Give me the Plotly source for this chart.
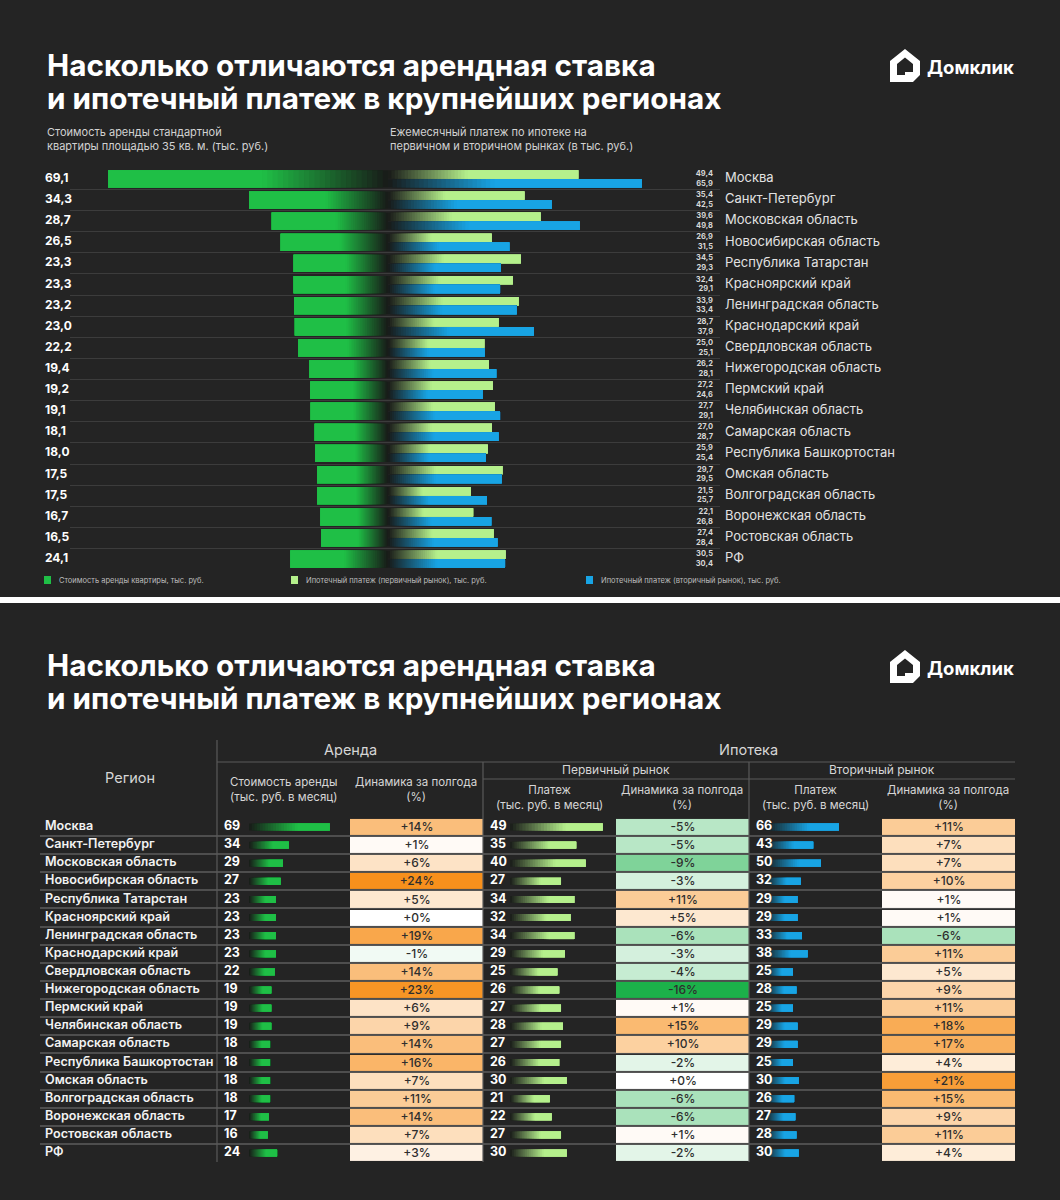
import plotly.graph_objects as go

W, H = 1060, 1200
BG = '#242424'
FONT = 'Inter, Noto Sans, DejaVu Sans, sans-serif'

# ---------------- DATA ----------------
regions = ['Москва', 'Санкт-Петербург', 'Московская область', 'Новосибирская область',
           'Республика Татарстан', 'Красноярский край', 'Ленинградская область',
           'Краснодарский край', 'Свердловская область', 'Нижегородская область',
           'Пермский край', 'Челябинская область', 'Самарская область',
           'Республика Башкортостан', 'Омская область', 'Волгоградская область',
           'Воронежская область', 'Ростовская область', 'РФ']

# top chart (тыс. руб.)
rent = [69.1, 34.3, 28.7, 26.5, 23.3, 23.3, 23.2, 23.0, 22.2, 19.4, 19.2, 19.1, 18.1, 18.0, 17.5, 17.5, 16.7, 16.5, 24.1]
prim = [49.4, 35.4, 39.6, 26.9, 34.5, 32.4, 33.9, 28.7, 25.0, 26.2, 27.2, 27.7, 27.0, 25.9, 29.7, 21.5, 22.1, 27.4, 30.5]
sec = [65.9, 42.5, 49.8, 31.5, 29.3, 29.1, 33.4, 37.9, 25.1, 28.1, 24.6, 29.1, 28.7, 25.4, 29.5, 25.7, 26.8, 28.4, 30.4]

# table (rounded values, dynamics in %)
rent_tbl = [69, 34, 29, 27, 23, 23, 23, 23, 22, 19, 19, 19, 18, 18, 18, 18, 17, 16, 24]
rent_dyn = [14, 1, 6, 24, 5, 0, 19, -1, 14, 23, 6, 9, 14, 16, 7, 11, 14, 7, 3]
prim_tbl = [49, 35, 40, 27, 34, 32, 34, 29, 25, 26, 27, 28, 27, 26, 30, 21, 22, 27, 30]
prim_dyn = [-5, -5, -9, -3, 11, 5, -6, -3, -4, -16, 1, 15, 10, -2, 0, -6, -6, 1, -2]
sec_tbl = [66, 43, 50, 32, 29, 29, 33, 38, 25, 28, 25, 29, 29, 25, 30, 26, 27, 28, 30]
sec_dyn = [11, 7, 7, 10, 1, 1, -6, 11, 5, 9, 11, 18, 17, 4, 21, 15, 9, 11, 4]

# ---------------- STYLE ----------------
C_RENT = '#1fbf46'
C_PRIM = '#b5f08c'
C_SEC = '#18a4e4'
C_DARK = '#181a18'
GRID_TOP = '#3c3c3c'
GRID_TBL = '#4e4e4e'


def px(x):
    return x / W


def py(y):
    return 1 - y / H


def hex2rgb(c):
    c = c.lstrip('#')
    return tuple(int(c[i:i + 2], 16) for i in (0, 2, 4))


def mix(c1, c2, t):
    a, b = hex2rgb(c1), hex2rgb(c2)
    return 'rgb(%d,%d,%d)' % tuple(round(a[i] + (b[i] - a[i]) * t) for i in range(3))


def fmt1(v):
    return f"{v:.1f}".replace('.', ',')


fig = go.Figure()


def grad_bars(values, xa, ya, color, frac, width, offset, K=24, gamma=1.0):
    # layered segments: each starts further out and runs to the bar end,
    # later (brighter) layers cover earlier ones -> smooth gradient without seams
    for k in range(K):
        t = ((k + 0.5) / K) ** gamma
        fig.add_trace(go.Bar(
            orientation='h', y=regions,
            x=[v - v * frac * k / K for v in values],
            base=[v * frac * k / K for v in values],
            marker=dict(color=mix(C_DARK, color, t), line=dict(width=0)),
            width=width, offset=offset, xaxis=xa, yaxis=ya,
            showlegend=False, hoverinfo='skip'))
    fig.add_trace(go.Bar(
        orientation='h', y=regions, x=[v * (1 - frac) for v in values],
        base=[v * frac for v in values],
        marker=dict(color=color, line=dict(width=0)),
        width=width, offset=offset, xaxis=xa, yaxis=ya,
        showlegend=False, hoverinfo='skip'))


# ---------------- TOP CHART ----------------
grad_bars(rent, 'x', 'y', C_RENT, 0.45, 0.82, -0.41)
grad_bars(prim, 'x2', 'y', C_PRIM, 0.42, 0.40, -0.41)
grad_bars(sec, 'x2', 'y', C_SEC, 0.42, 0.40, 0.01)

# labels (pixel axis x3 / y2)
fig.add_trace(go.Scatter(
    x=[45] * len(regions), y=regions, mode='text',
    text=[f'<b>{fmt1(v)}</b>' for v in rent], textposition='middle right',
    textfont=dict(size=12, color='#ffffff', family=FONT),
    xaxis='x3', yaxis='y2', showlegend=False, hoverinfo='skip'))
fig.add_trace(go.Scatter(
    x=[713] * len(regions), y=regions, mode='text',
    text=[f'<b>{fmt1(a)}<br>{fmt1(b)}</b>' for a, b in zip(prim, sec)],
    textposition='middle left',
    textfont=dict(size=7.5, color='#d8d8d8', family=FONT),
    xaxis='x3', yaxis='y2', showlegend=False, hoverinfo='skip'))
fig.add_trace(go.Scatter(
    x=[725] * len(regions), y=regions, mode='text',
    text=regions, textposition='middle right',
    textfont=dict(size=13, color='#e2e2e2', family=FONT),
    xaxis='x3', yaxis='y2', showlegend=False, hoverinfo='skip'))

# ---------------- TABLE ----------------
# region names
fig.add_trace(go.Scatter(
    x=[5] * len(regions), y=regions, mode='text', text=regions,
    textposition='middle right',
    textfont=dict(size=12.6, color='#f2f2f2', family=FONT, weight=600),
    xaxis='x4', yaxis='y3', showlegend=False, hoverinfo='skip'))

# mini bar columns: (values, axis, color, zero_px, px_per_unit, col_start)
bar_cols = [
    (rent_tbl, 'x5', C_RENT, 249, 1.17, 217),
    (prim_tbl, 'x7', C_PRIM, 510, 1.89, 483),
    (sec_tbl, 'x9', C_SEC, 765, 1.12, 749),
]
for vals, xa, col, z0, sc, c0 in bar_cols:
    grad_bars(vals, xa, 'y3', col, 0.6, 0.38, -0.19, K=18)
    fig.add_trace(go.Scatter(
        x=[(c0 + 7 - z0) / sc] * len(regions), y=regions, mode='text',
        text=[f'<b>{v}</b>' for v in vals], textposition='middle right',
        textfont=dict(size=12.5, color='#ffffff', family=FONT),
        xaxis=xa, yaxis='y3', showlegend=False, hoverinfo='skip'))

# dynamics heatmap columns
cscale = [[0.0, '#1cb14a'], [0.4, '#ffffff'], [1.0, '#f7901c']]
for vals, xa in [(rent_dyn, 'x6'), (prim_dyn, 'x8'), (sec_dyn, 'x10')]:
    fig.add_trace(go.Heatmap(
        z=[[v] for v in vals], x=[0], y=regions,
        text=[[f'{v:+d}%'] for v in vals], texttemplate='%{text}',
        textfont=dict(size=12, color='#2e2e2e', family=FONT, weight=500),
        colorscale=cscale, zmin=-16, zmax=24, showscale=False,
        xgap=0, ygap=2, xaxis=xa, yaxis='y3', hoverinfo='skip'))

# ---------------- LAYOUT ----------------
n = len(regions)
cat_common = dict(type='category', categoryorder='array', categoryarray=regions,
                  range=[n - 0.5, -0.5], fixedrange=True)

top_dom = [py(569.6), py(168.4)]
tbl_dom = [py(1162.1), py(817.9)]

layout = dict(
    width=W, height=H, margin=dict(l=0, r=0, t=0, b=0),
    paper_bgcolor=BG, plot_bgcolor='rgba(0,0,0,0)',
    barmode='overlay', showlegend=False, font=dict(family=FONT),
    xaxis=dict(domain=[px(70), px(388)], range=[318 / 4.05, 0], visible=False, anchor='y'),
    xaxis2=dict(domain=[px(388), px(720)], range=[0, 332 / 3.85], visible=False, anchor='y'),
    xaxis3=dict(domain=[0, 1], range=[0, W], visible=False, anchor='y2'),
    yaxis=dict(domain=top_dom, showgrid=True, gridcolor=GRID_TOP, gridwidth=1,
               tickson='boundaries', showticklabels=False, ticks='', showline=False,
               zeroline=False, **cat_common),
    yaxis2=dict(domain=top_dom, visible=False, **cat_common),
    xaxis4=dict(domain=[px(40), px(217)], range=[0, 177], visible=False, anchor='y3'),
    xaxis5=dict(domain=[px(217), px(350)], range=[(217 - 249) / 1.17, (350 - 249) / 1.17], visible=False, anchor='y3'),
    xaxis6=dict(domain=[px(350), px(483)], range=[-0.5, 0.5], visible=False, anchor='y3'),
    xaxis7=dict(domain=[px(483), px(616)], range=[(483 - 510) / 1.89, (616 - 510) / 1.89], visible=False, anchor='y3'),
    xaxis8=dict(domain=[px(616), px(749)], range=[-0.5, 0.5], visible=False, anchor='y3'),
    xaxis9=dict(domain=[px(749), px(882)], range=[(749 - 765) / 1.12, (882 - 765) / 1.12], visible=False, anchor='y3'),
    xaxis10=dict(domain=[px(882), px(1015)], range=[-0.5, 0.5], visible=False, anchor='y3'),
    yaxis3=dict(domain=tbl_dom, showgrid=True, gridcolor=GRID_TBL, gridwidth=1.5,
                tickson='boundaries', showticklabels=False, ticks='', showline=False,
                zeroline=False, **cat_common),
)
fig.update_layout(**layout)

ann = []
shapes = []


def text(x, y, s, size, color='#ffffff', anchor='left', **kw):
    ann.append(dict(x=px(x), y=py(y), xref='paper', yref='paper', text=s, showarrow=False,
                    xanchor=anchor, yanchor='middle', align=anchor if anchor != 'center' else 'center',
                    font=dict(size=size, color=color, family=FONT), **kw))


def logo(dy):
    pts_o = [(890, 61), (905, 49), (920, 61), (920, 75), (913, 82), (890, 82)]
    pts_i = [(897, 64), (905, 57.5), (913, 64), (913, 72), (905, 72), (905, 75), (897, 75)]

    def path(pts):
        return 'M ' + ' L '.join(f'{px(x):.5f},{py(y + dy):.5f}' for x, y in pts) + ' Z'
    shapes.append(dict(type='path', xref='paper', yref='paper', path=path(pts_o) + ' ' + path(pts_i),
                       fillcolor='#ffffff', line=dict(width=0), fillrule='evenodd'))
    text(925, 67 + dy, '<b>Домклик</b>', 18.5)


# --- top panel texts
text(45, 65, '<b>Насколько отличаются арендная ставка</b>', 29.7)
text(45, 98, '<b>и ипотечный платеж в крупнейших регионах</b>', 29.7)
logo(0)
text(45, 139, 'Стоимость аренды стандартной<br>квартиры площадью 35 кв. м. (тыс. руб.)', 11, '#d2d2d2')
text(388, 139, 'Ежемесячный платеж по ипотеке на<br>первичном и вторичном рынках (в тыс. руб.)', 11, '#d2d2d2')

# legend
for sx, tx, col, label in [(44, 57, C_RENT, 'Стоимость аренды квартиры, тыс. руб.'),
                            (291, 304, C_PRIM, 'Ипотечный платеж (первичный рынок), тыс. руб.'),
                            (586, 599, C_SEC, 'Ипотечный платеж (вторичный рынок), тыс. руб.')]:
    shapes.append(dict(type='rect', xref='paper', yref='paper', x0=px(sx), x1=px(sx + 7),
                       y0=py(584), y1=py(576), fillcolor=col, line=dict(width=0)))
    text(tx, 580, label, 7.5, '#bdbdbd')

# separator strip between panels
shapes.append(dict(type='rect', xref='paper', yref='paper', x0=0, x1=1, y0=py(603), y1=py(597),
                   fillcolor='#ffffff', line=dict(width=0)))

# --- bottom panel texts
text(45, 665, '<b>Насколько отличаются арендная ставка</b>', 29.7)
text(45, 698, '<b>и ипотечный платеж в крупнейших регионах</b>', 29.7)
logo(601)

HC = '#d6d6d6'
text(130, 777, 'Регион', 14.5, HC, 'center')
text(350, 749, 'Аренда', 14.5, HC, 'center')
text(748, 749, 'Ипотека', 14.5, HC, 'center')
text(616, 769, 'Первичный рынок', 12, HC, 'center')
text(882, 769, 'Вторичный рынок', 12, HC, 'center')
text(283, 789, 'Стоимость аренды<br>(тыс. руб. в месяц)', 11.5, HC, 'center')
text(416, 789, 'Динамика за полгода<br>(%)', 11.5, HC, 'center')
for cx in (549, 815):
    text(cx, 797, 'Платеж<br>(тыс. руб. в месяц)', 11.5, HC, 'center')
for cx in (682, 948):
    text(cx, 797, 'Динамика за полгода<br>(%)', 11.5, HC, 'center')

LC = '#5a5a5a'
for x0, y0, x1, y1 in [(217, 740, 217, 1162), (483, 762, 483, 1162), (749, 762, 749, 1162),
                       (217, 762, 1015, 762), (483, 779, 1015, 779)]:
    shapes.append(dict(type='line', xref='paper', yref='paper', x0=px(x0), y0=py(y0),
                       x1=px(x1), y1=py(y1), line=dict(color=LC, width=1.2)))

fig.update_layout(annotations=ann, shapes=shapes)
fig.write_html('out.html', config={'displayModeBar': False},
               post_script="document.body.style.margin='0';document.body.style.background='" + BG + "';")
